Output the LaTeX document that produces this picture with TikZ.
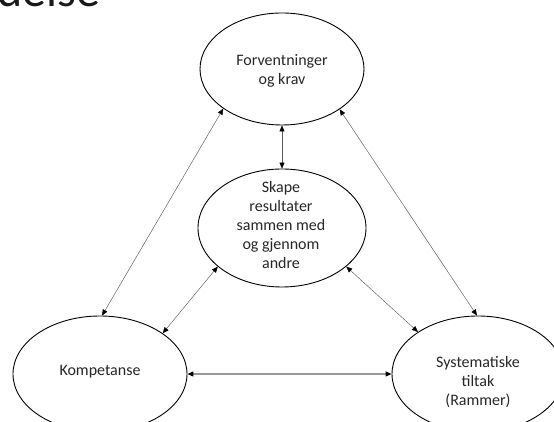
\documentclass[tikz,border=0pt]{standalone}
\usepackage{fontspec}
\setmainfont{Carlito}
\usetikzlibrary{shapes.geometric,arrows.meta}
\begin{document}
\begin{tikzpicture}[x=1pt,y=1pt,
  oval/.style={ellipse,draw=black,line width=0.9pt,inner sep=0pt},
  txt/.style={align=center,font=\fontsize{16}{19}\selectfont,text=black!85,inner sep=0pt},
  tip/.style={Triangle[length=6pt,width=5pt,color=black]},
  link/.style={draw=black!65,line width=0.45pt,{Triangle[length=6pt,width=5pt,color=black]}-{Triangle[length=6pt,width=5pt,color=black]}},
  hlink/.style={draw=black!40,line width=1.2pt,{Triangle[length=6pt,width=5pt,color=black]}-{Triangle[length=6pt,width=5pt,color=black]}},
]
\useasboundingbox (0,0) rectangle (554,422);
\node[anchor=base west,inner sep=0pt,font=\fontsize{48}{50}\selectfont,text=black!90] (title) at (-3,415) {delse};

\node[oval,minimum width=164pt,minimum height=112pt] (F) at (282,353) {};
\node[txt] (Ft) at (282,351) {Forventninger\\og krav};

\node[oval,minimum width=168pt,minimum height=118pt] (M) at (282,194) {};
\node[txt] (Mt) at (281,197) {Skape\\resultater\\sammen med\\og gjennom\\andre};

\node[oval,minimum width=174pt,minimum height=116pt] (K) at (100,48) {};
\node[txt] (Kt) at (100,50) {Kompetanse};

\node[oval,minimum width=172pt,minimum height=116pt] (S) at (478,48) {};
\node[txt] (St) at (478,40) {Systematiske\\tiltak\\(Rammer)};

\draw[link] (F.south) -- (M.north);
\draw[link] (F.214.8) -- (K.88);
\draw[link] (F.325.7) -- (S.91);
\draw[link] (M.211) -- (K.33.7);
\draw[link] (M.329.7) -- (S.145.5);
\draw[hlink] (K.east) -- (S.west);
\end{tikzpicture}
\end{document}
